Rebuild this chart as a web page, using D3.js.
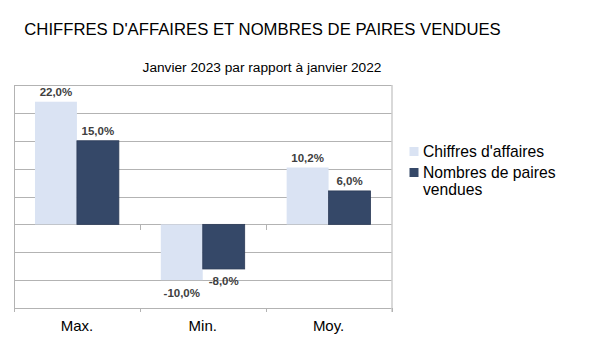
<!DOCTYPE html>
<html><head><meta charset="utf-8">
<script src="https://cdn.jsdelivr.net/npm/d3@7"></script>
<style>body{margin:0;background:#fff}svg{display:block;font-family:"Liberation Sans",Arial,sans-serif}</style>
</head><body>
<script>
const categories = ["Max.", "Min.", "Moy."];
const seriesNames = ["Chiffres d'affaires", "Nombres de paires vendues"];
const chiffresAffaires = [22.0, -10.0, 10.2];
const pairesVendues = [15.0, -8.0, 6.0];
const yTicks = [-15, -10, -5, 0, 5, 10, 15, 20, 25];
const colors = ["#dae3f3", "#354868"];

(function () {
const W = 605, H = 340;
const svg = d3.select("body").append("svg").attr("width", W).attr("height", H);

const pLeft = 14, pRight = 391.5, pTop = 85, pBottom = 308;
const x = d3.scaleBand().domain(categories).range([pLeft, pRight]);
const x1 = d3.scaleBand().domain([0, 1]).range([0, x.bandwidth()]).paddingOuter(0.5).paddingInner(0);
const y = d3.scaleLinear().domain([-15, 25]).range([pBottom, pTop]);

svg.append("g").selectAll("line").data(yTicks).join("line")
  .attr("x1", pLeft).attr("x2", pRight)
  .attr("y1", d => Math.round(y(d)) + 0.5).attr("y2", d => Math.round(y(d)) + 0.5)
  .attr("stroke", "#b3b3b3").attr("stroke-width", 1);
svg.append("line").attr("x1", pLeft + 0.5).attr("x2", pLeft + 0.5).attr("y1", pTop).attr("y2", pBottom + 4).attr("stroke", "#b3b3b3");
svg.append("line").attr("x1", pRight + 0.5).attr("x2", pRight + 0.5).attr("y1", pTop).attr("y2", pBottom + 4).attr("stroke", "#b3b3b3");

const data = categories.map((c, i) => ({cat: c, vals: [chiffresAffaires[i], pairesVendues[i]]}));

const groups = svg.append("g").selectAll("g").data(data).join("g")
  .attr("transform", d => `translate(${x(d.cat)},0)`);
groups.selectAll("rect").data(d => d.vals.map((v, j) => ({v, j}))).join("rect")
  .attr("x", d => x1(d.j))
  .attr("width", x1.bandwidth())
  .attr("y", d => y(Math.max(0, d.v)))
  .attr("height", d => Math.abs(y(d.v) - y(0)))
  .attr("fill", d => colors[d.j])
  .attr("stroke", d => d.j === 1 ? "#2c3b57" : "none")
  .attr("stroke-width", 0.8);

groups.selectAll("text").data(d => d.vals.map((v, j) => ({v, j}))).join("text")
  .attr("x", d => x1(d.j) + x1.bandwidth() / 2)
  .attr("y", d => d.v >= 0 ? y(d.v) - 6 : y(d.v) + 16.5)
  .attr("text-anchor", "middle")
  .attr("font-size", "11.5px").attr("font-weight", "bold").attr("fill", "#404040")
  .text(d => d.v.toFixed(1).replace(".", ",") + "%");

const tickXs = d3.range(categories.length + 1).map(i => pLeft + i * x.step());
svg.append("g").selectAll("line").data(tickXs.slice(1, -1)).join("line")
  .attr("x1", d => Math.round(d) + 0.5).attr("x2", d => Math.round(d) + 0.5)
  .attr("y1", Math.round(y(0)) + 0.5).attr("y2", Math.round(y(0)) + 6)
  .attr("stroke", "#b3b3b3");
svg.append("g").selectAll("line").data(tickXs).join("line")
  .attr("x1", d => Math.round(d) + 0.5).attr("x2", d => Math.round(d) + 0.5)
  .attr("y1", pBottom).attr("y2", pBottom + 4)
  .attr("stroke", "#b3b3b3");

svg.append("g").selectAll("text").data(categories).join("text")
  .attr("x", d => x(d) + x.bandwidth() / 2).attr("y", 331)
  .attr("text-anchor", "middle").attr("font-size", "15px").attr("fill", "#000")
  .text(d => d);

svg.append("text").attr("x", 262.5).attr("y", 35).attr("text-anchor", "middle")
  .attr("font-size", "16.7px").attr("fill", "#000").text("CHIFFRES D'AFFAIRES ET NOMBRES DE PAIRES VENDUES");
svg.append("text").attr("x", 262).attr("y", 72).attr("text-anchor", "middle")
  .attr("font-size", "13.7px").attr("fill", "#000").text("Janvier 2023 par rapport à janvier 2022");

const lg = svg.append("g");
lg.append("rect").attr("x", 409.5).attr("y", 147).attr("width", 9).attr("height", 9).attr("fill", colors[0]);
lg.append("text").attr("x", 423).attr("y", 157).attr("font-size", "15.7px").attr("fill", "#000").text(seriesNames[0]);
lg.append("rect").attr("x", 409.5).attr("y", 168).attr("width", 9).attr("height", 9).attr("fill", colors[1]);
const t2 = lg.append("text").attr("x", 423).attr("y", 178).attr("font-size", "15.7px").attr("fill", "#000");
t2.append("tspan").attr("x", 423).text("Nombres de paires");
t2.append("tspan").attr("x", 423).attr("dy", 17).text("vendues");
})();
</script>
</body></html>
